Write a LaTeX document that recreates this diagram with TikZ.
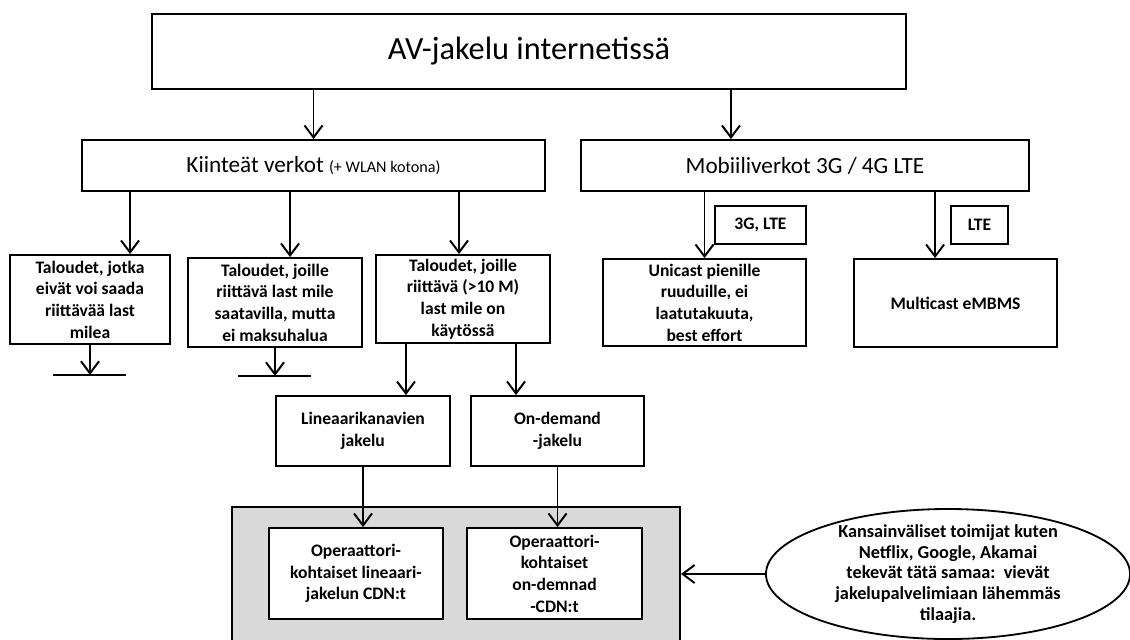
\documentclass[tikz,border=0pt]{standalone}
\usepackage{fontspec}
\setmainfont{Carlito}
\usepackage{xcolor}
\definecolor{cdngray}{HTML}{D9D9D9}
\usetikzlibrary{arrows.meta,shapes.geometric}

\begin{document}
\begin{tikzpicture}[x=0.025cm, y=-0.025cm,
      head/.style={draw, line width=1.3pt, align=center, inner sep=1pt},
      box/.style={draw, fill=white, line width=1.3pt, align=center, inner sep=1pt, font=\bfseries\fontsize{12.5}{15.4}\selectfont},
      tag/.style={box, minimum height=0.95cm},
      arr/.style={-{Straight Barb[length=3mm,width=4.5mm]}, line width=1.4pt}
    ]
    \useasboundingbox (0,0) rectangle (1130,639);
    \clip (0,0) rectangle (1130,639);
    % top levels
    \node[head, minimum width=18.85cm, minimum height=1.875cm, font=\fontsize{23}{27}\selectfont] (title) at (529,51.5) {AV-jakelu internetissä};
    \node[head, minimum width=11.575cm, minimum height=1.275cm, font=\fontsize{16.5}{20}\selectfont] (fixed) at (313.5,165.5) {Kiinteät verkot {\fontsize{11.5}{14}\selectfont (+ WLAN kotona)}};
    \node[head, minimum width=11.2cm, minimum height=1.275cm, font=\fontsize{16.5}{20}\selectfont] (mobile) at (805,165.5) {Mobiiliverkot 3G / 4G LTE};
    % fixed network households
    \node[box, minimum width=4cm, minimum height=2.225cm] (hhA) at (90,299.5) {Taloudet, jotka\\eivät voi saada\\riittävää last\\milea};
    \node[box, minimum width=4.35cm, minimum height=2.225cm] (hhB) at (275,302.5) {Taloudet, joille\\riittävä last mile\\saatavilla, mutta\\ei maksuhalua};
    \node[box, minimum width=4.35cm, minimum height=2.2cm] (hhC) at (463,299) {Taloudet, joille\\riittävä (>10 M)\\last mile on\\käytössä};
    \node[box, minimum width=4.35cm, minimum height=1.75cm] (linear) at (363,431) {Lineaarikanavien\\jakelu};
    \node[box, minimum width=4.325cm, minimum height=1.75cm] (ondemand) at (557.5,431) {On-demand\\-jakelu};
    % operator CDNs
    \node[draw, fill=cdngray, line width=1.3pt, minimum width=11.2cm, minimum height=3.45cm] (cdn) at (456,576) {};
    \node[box, minimum width=4.35cm, minimum height=2.275cm] (cdnlin) at (356,573.5) {Operaattori-\\kohtaiset lineaari-\\jakelun CDN:t};
    \node[box, minimum width=4.375cm, minimum height=2.275cm] (cdnod) at (554.5,573.5) {Operaattori-\\kohtaiset\\on-demnad\\-CDN:t};
    \node[box, ellipse, minimum width=9.1cm, minimum height=3.25cm, inner xsep=0pt, inner ysep=-12pt, font=\bfseries\fontsize{13}{14.8}\selectfont] (intl) at (948,574) {Kansainväliset toimijat kuten\\Netflix, Google, Akamai\\tekevät tätä samaa:\ \ vievät\\jakelupalvelimiaan lähemmäs\\tilaajia.};
    % mobile
    \node[box, minimum width=5.075cm, minimum height=2.175cm] (unicast) at (704.5,302.5) {Unicast pienille\\ruuduille, ei\\laatutakuuta,\\best effort};
    \node[box, minimum width=5.075cm, minimum height=2.2cm] (multicast) at (955.5,303) {Multicast eMBMS};
    \node[tag, minimum width=2.275cm] (tag3g) at (760.5,225) {3G, LTE};
    \node[tag, minimum width=1.425cm] (taglte) at (979.5,225) {LTE};
    % arrows
    \draw[arr] (title.south -| fixed.north) -- (fixed.north);
    \coordinate (mtop) at ([xshift=-1.85cm]mobile.north);
    \draw[arr] (mtop |- title.south) -- (mtop);
    \foreach \t/\s in {hhA/1cm, hhB/0.375cm, hhC/-0.1cm} {
      \coordinate (top) at ([xshift=\s]\t.north);
      \draw[arr] (top |- fixed.south) -- (top);
    }
    \coordinate (endA) at ([yshift=-0.75cm]hhA.south);
    \draw[arr] (hhA.south) -- (endA);
    \draw[line width=1.4pt] ([xshift=-0.925cm]endA) -- ([xshift=0.9cm]endA);
    \coordinate (endB) at ([yshift=-0.7cm]hhB.south);
    \draw[arr] (hhB.south) -- (endB);
    \draw[line width=1.4pt] ([xshift=-0.925cm]endB) -- ([xshift=0.9cm]endB);
    \coordinate (cl) at ([xshift=-1.425cm]hhC.south);
    \coordinate (cr) at ([xshift=1.325cm]hhC.south);
    \draw[arr] (cl) -- (cl |- linear.north);
    \draw[arr] (cr) -- (cr |- ondemand.north);
    \draw[arr] (linear.south) -- (linear.south |- cdnlin.north);
    \draw[arr] (ondemand.south) -- (ondemand.south |- cdnod.north);
    \draw[arr] (intl.west) -- (intl.west -| cdn.east);
    \draw[arr] (unicast.north |- mobile.south) -- (unicast.north);
    \coordinate (ltop) at ([xshift=-0.51cm]multicast.north);
    \draw[arr] (ltop |- mobile.south) -- (ltop);
  \end{tikzpicture}
\end{document}
